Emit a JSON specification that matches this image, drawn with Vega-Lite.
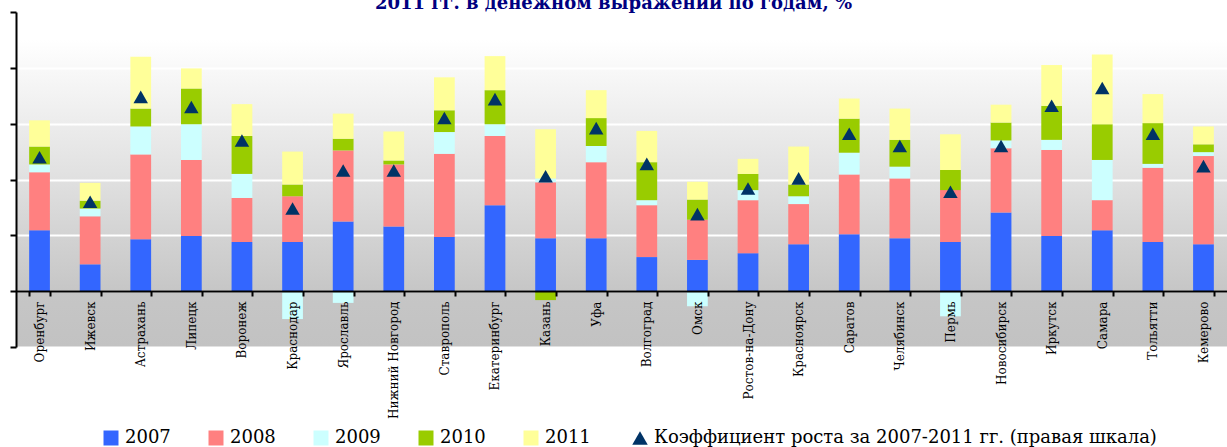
{
  "$schema": "https://vega.github.io/schema/vega-lite/v6.json",
  "autosize": {"type": "none"},
  "padding": {"left": 16, "top": 12, "right": 0, "bottom": 100},
  "width": 1211,
  "height": 335,
  "background": "white",
  "view": {
    "stroke": null,
    "fill": {
      "gradient": "linear", "x1": 0, "y1": 0, "x2": 0, "y2": 1,
      "stops": [
        {"offset": 0, "color": "#ffffff"},
        {"offset": 0.084, "color": "#ffffff"},
        {"offset": 0.334, "color": "#ececec"},
        {"offset": 0.5, "color": "#e0e0e0"},
        {"offset": 0.666, "color": "#d3d3d3"},
        {"offset": 0.833, "color": "#c6c6c6"},
        {"offset": 1, "color": "#c2c2c2"}
      ]
    }
  },
  "title": {
    "text": "2011 гг. в денежном выражении по годам, %",
    "font": "DejaVu Serif",
    "fontSize": 18,
    "fontWeight": "bold",
    "color": "#000080",
    "anchor": "middle",
    "offset": -2,
    "dx": -8
  },
  "datasets": {
    "bars": [
      {"city": "Оренбург", "year": "2007", "v": 10.9}, {"city": "Оренбург", "year": "2008", "v": 10.4}, {"city": "Оренбург", "year": "2009", "v": 1.4}, {"city": "Оренбург", "year": "2010", "v": 3.2}, {"city": "Оренбург", "year": "2011", "v": 4.7},
      {"city": "Ижевск", "year": "2007", "v": 4.8}, {"city": "Ижевск", "year": "2008", "v": 8.6}, {"city": "Ижевск", "year": "2009", "v": 1.4}, {"city": "Ижевск", "year": "2010", "v": 1.4}, {"city": "Ижевск", "year": "2011", "v": 3.2},
      {"city": "Астрахань", "year": "2007", "v": 9.3}, {"city": "Астрахань", "year": "2008", "v": 15.2}, {"city": "Астрахань", "year": "2009", "v": 5.0}, {"city": "Астрахань", "year": "2010", "v": 3.2}, {"city": "Астрахань", "year": "2011", "v": 9.3},
      {"city": "Липецк", "year": "2007", "v": 9.9}, {"city": "Липецк", "year": "2008", "v": 13.6}, {"city": "Липецк", "year": "2009", "v": 6.4}, {"city": "Липецк", "year": "2010", "v": 6.4}, {"city": "Липецк", "year": "2011", "v": 3.6},
      {"city": "Воронеж", "year": "2007", "v": 8.8}, {"city": "Воронеж", "year": "2008", "v": 7.9}, {"city": "Воронеж", "year": "2009", "v": 4.3}, {"city": "Воронеж", "year": "2010", "v": 6.8}, {"city": "Воронеж", "year": "2011", "v": 5.7},
      {"city": "Краснодар", "year": "2007", "v": 8.8}, {"city": "Краснодар", "year": "2008", "v": 8.2}, {"city": "Краснодар", "year": "2009", "v": -5.0}, {"city": "Краснодар", "year": "2010", "v": 2.1}, {"city": "Краснодар", "year": "2011", "v": 5.9},
      {"city": "Ярославль", "year": "2007", "v": 12.5}, {"city": "Ярославль", "year": "2008", "v": 12.7}, {"city": "Ярославль", "year": "2009", "v": -2.1}, {"city": "Ярославль", "year": "2010", "v": 2.1}, {"city": "Ярославль", "year": "2011", "v": 4.5},
      {"city": "Нижний Новгород", "year": "2007", "v": 11.6}, {"city": "Нижний Новгород", "year": "2008", "v": 11.1}, {"city": "Нижний Новгород", "year": "2009", "v": 0}, {"city": "Нижний Новгород", "year": "2010", "v": 0.7}, {"city": "Нижний Новгород", "year": "2011", "v": 5.2},
      {"city": "Ставрополь", "year": "2007", "v": 9.7}, {"city": "Ставрополь", "year": "2008", "v": 14.9}, {"city": "Ставрополь", "year": "2009", "v": 3.9}, {"city": "Ставрополь", "year": "2010", "v": 3.9}, {"city": "Ставрополь", "year": "2011", "v": 5.9},
      {"city": "Екатеринбург", "year": "2007", "v": 15.4}, {"city": "Екатеринбург", "year": "2008", "v": 12.4}, {"city": "Екатеринбург", "year": "2009", "v": 2.1}, {"city": "Екатеринбург", "year": "2010", "v": 6.1}, {"city": "Екатеринбург", "year": "2011", "v": 6.1},
      {"city": "Казань", "year": "2007", "v": 9.5}, {"city": "Казань", "year": "2008", "v": 10.0}, {"city": "Казань", "year": "2009", "v": 0.7}, {"city": "Казань", "year": "2010", "v": -1.6}, {"city": "Казань", "year": "2011", "v": 8.8},
      {"city": "Уфа", "year": "2007", "v": 9.5}, {"city": "Уфа", "year": "2008", "v": 13.6}, {"city": "Уфа", "year": "2009", "v": 2.9}, {"city": "Уфа", "year": "2010", "v": 5.0}, {"city": "Уфа", "year": "2011", "v": 5.0},
      {"city": "Волгоград", "year": "2007", "v": 6.1}, {"city": "Волгоград", "year": "2008", "v": 9.3}, {"city": "Волгоград", "year": "2009", "v": 0.9}, {"city": "Волгоград", "year": "2010", "v": 6.8}, {"city": "Волгоград", "year": "2011", "v": 5.6},
      {"city": "Омск", "year": "2007", "v": 5.6}, {"city": "Омск", "year": "2008", "v": 7.2}, {"city": "Омск", "year": "2009", "v": -2.7}, {"city": "Омск", "year": "2010", "v": 3.6}, {"city": "Омск", "year": "2011", "v": 3.2},
      {"city": "Ростов-на-Дону", "year": "2007", "v": 6.8}, {"city": "Ростов-на-Дону", "year": "2008", "v": 9.5}, {"city": "Ростов-на-Дону", "year": "2009", "v": 1.8}, {"city": "Ростов-на-Дону", "year": "2010", "v": 2.9}, {"city": "Ростов-на-Дону", "year": "2011", "v": 2.7},
      {"city": "Красноярск", "year": "2007", "v": 8.4}, {"city": "Красноярск", "year": "2008", "v": 7.2}, {"city": "Красноярск", "year": "2009", "v": 1.4}, {"city": "Красноярск", "year": "2010", "v": 2.1}, {"city": "Красноярск", "year": "2011", "v": 6.8},
      {"city": "Саратов", "year": "2007", "v": 10.2}, {"city": "Саратов", "year": "2008", "v": 10.7}, {"city": "Саратов", "year": "2009", "v": 3.9}, {"city": "Саратов", "year": "2010", "v": 6.1}, {"city": "Саратов", "year": "2011", "v": 3.6},
      {"city": "Челябинск", "year": "2007", "v": 9.5}, {"city": "Челябинск", "year": "2008", "v": 10.7}, {"city": "Челябинск", "year": "2009", "v": 2.1}, {"city": "Челябинск", "year": "2010", "v": 4.8}, {"city": "Челябинск", "year": "2011", "v": 5.6},
      {"city": "Пермь", "year": "2007", "v": 8.8}, {"city": "Пермь", "year": "2008", "v": 9.3}, {"city": "Пермь", "year": "2009", "v": -4.5}, {"city": "Пермь", "year": "2010", "v": 3.6}, {"city": "Пермь", "year": "2011", "v": 6.4},
      {"city": "Новосибирск", "year": "2007", "v": 14.1}, {"city": "Новосибирск", "year": "2008", "v": 11.5}, {"city": "Новосибирск", "year": "2009", "v": 1.4}, {"city": "Новосибирск", "year": "2010", "v": 3.2}, {"city": "Новосибирск", "year": "2011", "v": 3.2},
      {"city": "Иркутск", "year": "2007", "v": 9.9}, {"city": "Иркутск", "year": "2008", "v": 15.4}, {"city": "Иркутск", "year": "2009", "v": 1.8}, {"city": "Иркутск", "year": "2010", "v": 6.1}, {"city": "Иркутск", "year": "2011", "v": 7.3},
      {"city": "Самара", "year": "2007", "v": 10.9}, {"city": "Самара", "year": "2008", "v": 5.4}, {"city": "Самара", "year": "2009", "v": 7.2}, {"city": "Самара", "year": "2010", "v": 6.4}, {"city": "Самара", "year": "2011", "v": 12.5},
      {"city": "Тольятти", "year": "2007", "v": 8.8}, {"city": "Тольятти", "year": "2008", "v": 13.3}, {"city": "Тольятти", "year": "2009", "v": 0.7}, {"city": "Тольятти", "year": "2010", "v": 7.3}, {"city": "Тольятти", "year": "2011", "v": 5.2},
      {"city": "Кемерово", "year": "2007", "v": 8.4}, {"city": "Кемерово", "year": "2008", "v": 15.8}, {"city": "Кемерово", "year": "2009", "v": 0.7}, {"city": "Кемерово", "year": "2010", "v": 1.4}, {"city": "Кемерово", "year": "2011", "v": 3.2}
    ],
    "coef": [
      {"city": "Оренбург", "k": 1.20}, {"city": "Ижевск", "k": 0.80}, {"city": "Астрахань", "k": 1.74}, {"city": "Липецк", "k": 1.65},
      {"city": "Воронеж", "k": 1.35}, {"city": "Краснодар", "k": 0.74}, {"city": "Ярославль", "k": 1.08}, {"city": "Нижний Новгород", "k": 1.08},
      {"city": "Ставрополь", "k": 1.55}, {"city": "Екатеринбург", "k": 1.72}, {"city": "Казань", "k": 1.03}, {"city": "Уфа", "k": 1.46},
      {"city": "Волгоград", "k": 1.14}, {"city": "Омск", "k": 0.69}, {"city": "Ростов-на-Дону", "k": 0.92}, {"city": "Красноярск", "k": 1.01},
      {"city": "Саратов", "k": 1.41}, {"city": "Челябинск", "k": 1.30}, {"city": "Пермь", "k": 0.89}, {"city": "Новосибирск", "k": 1.30},
      {"city": "Иркутск", "k": 1.66}, {"city": "Самара", "k": 1.82}, {"city": "Тольятти", "k": 1.41}, {"city": "Кемерово", "k": 1.12}
    ]
  },
  "layer": [
    {
      "data": {"name": "bars"},
      "mark": {"type": "bar"},
      "encoding": {
        "x": {
          "field": "city", "type": "nominal", "sort": null,
          "scale": {"paddingInner": 0.59, "paddingOuter": 0.26},
          "axis": {
            "title": null, "orient": "bottom", "offset": -56, "zindex": 1,
            "domainColor": "black", "domainWidth": 2,
            "tickColor": "black", "tickWidth": 2, "tickSize": 5, "tickBand": "extent",
            "labelAngle": -90, "labelFont": "DejaVu Serif", "labelFontSize": 12,
            "labelColor": "black", "labelPadding": 5, "labelOverlap": false, "labelLimit": 300,
            "grid": false
          }
        },
        "y": {
          "field": "v", "type": "quantitative", "stack": "zero",
          "scale": {"domain": [-10, 50], "nice": false, "zero": false},
          "axis": {
            "title": null, "orient": "left", "values": [-10, 0, 10, 20, 30, 40, 50],
            "labels": false, "domainColor": "black", "domainWidth": 2,
            "tickColor": "black", "tickWidth": 2, "tickSize": 6,
            "grid": true, "gridColor": "white", "gridWidth": 2, "zindex": 0
          }
        },
        "color": {
          "field": "year", "type": "nominal",
          "scale": {
            "domain": ["2007", "2008", "2009", "2010", "2011"],
            "range": ["#3366FF", "#FF8080", "#CCFFFF", "#99CC00", "#FFFF99"]
          },
          "legend": {
            "title": null, "orient": "none", "legendX": 86, "legendY": 417,
            "direction": "horizontal", "symbolType": "square", "symbolSize": 225,
            "symbolStrokeWidth": 0, "symbolOpacity": 1,
            "labelFont": "DejaVu Serif", "labelFontSize": 18, "labelColor": "black",
            "labelOffset": 5, "columnPadding": 36, "padding": 0
          }
        },
        "order": {"field": "year", "sort": "ascending"}
      }
    },
    {
      "data": {"name": "coef"},
      "mark": {"type": "point", "shape": "triangle-up", "filled": true, "size": 210, "color": "#003366", "opacity": 1},
      "encoding": {
        "x": {"field": "city", "type": "nominal", "sort": null},
        "y": {
          "field": "k", "type": "quantitative",
          "scale": {"domain": [-0.5, 2.5], "nice": false, "zero": false},
          "axis": null
        },
        "shape": {
          "datum": "Коэффициент роста за 2007-2011 гг. (правая шкала)",
          "scale": {"range": ["triangle-up"]},
          "legend": {
            "title": null, "orient": "none", "legendX": 615, "legendY": 417,
            "symbolSize": 240, "symbolFillColor": "#003366", "symbolStrokeWidth": 0, "symbolOpacity": 1,
            "labelFont": "DejaVu Serif", "labelFontSize": 18, "labelColor": "black",
            "labelOffset": 5, "labelLimit": 800, "padding": 0
          }
        }
      }
    }
  ],
  "resolve": {"scale": {"y": "independent"}},
  "config": {
    "font": "DejaVu Serif"
  }
}
